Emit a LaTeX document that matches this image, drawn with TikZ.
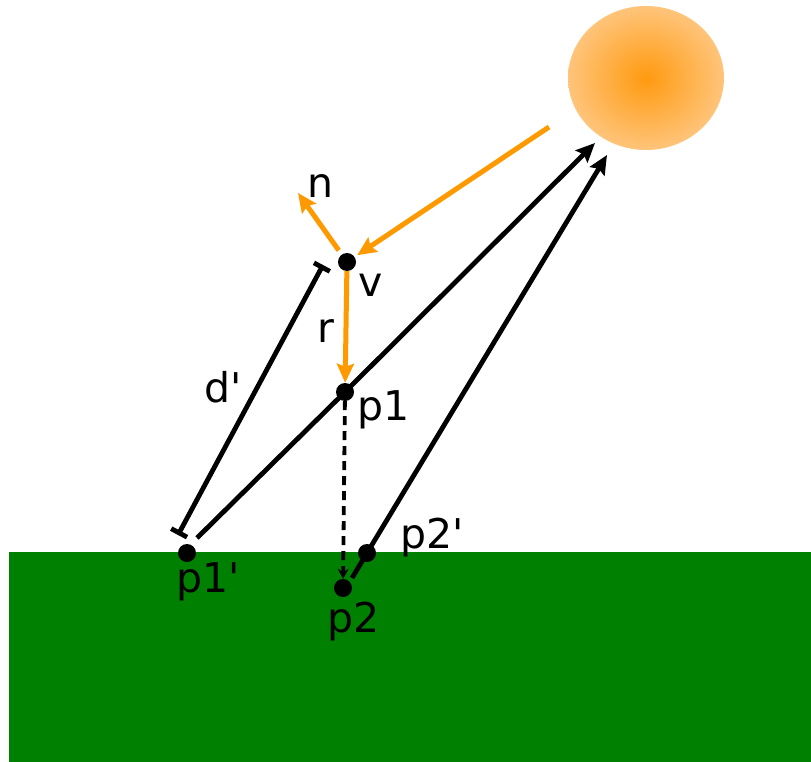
\documentclass[tikz,border=0pt]{standalone}
\usepackage{fontspec}
\setmainfont{DejaVu Sans}
\usepackage{xcolor}
\definecolor{rayOrange}{HTML}{FF9900}
\definecolor{sunCore}{HTML}{FF9A10}
\definecolor{sunRim}{HTML}{FFC47A}
\definecolor{grassGreen}{HTML}{008000}
\usetikzlibrary{arrows.meta}

\begin{document}
\begin{tikzpicture}[x=1pt, y=-1pt, >={Stealth[length=19pt, width=17pt, inset=3pt]},
    spot/.style={circle, fill=black, inner sep=0pt, minimum size=18pt},
    lbl/.style={font=\fontsize{41}{41}\selectfont, inner sep=0pt},
    ray/.style={rayOrange, line width=5pt, ->},
    beam/.style={black, line width=4.8pt, ->}]
  \useasboundingbox (0,0) rectangle (811,762);
  % ------- ground and sun -------
  \fill[grassGreen] (9,552) rectangle (811,762);
  \shade[inner color=sunCore, outer color=sunRim] (646,78) ellipse [x radius=78, y radius=72];
  % ------- points -------
  \node[spot] (v) at (347,262) {};
  \node[spot] (p1) at (345,392) {};
  \node[spot] (p1s) at (187,553) {};
  \node[spot] (p2) at (343,588) {};
  \node[spot] (p2s) at (367,553) {};
  \coordinate (sunA) at (595,143);
  \coordinate (sunB) at (607,155);
  \coordinate (rayStart) at (549,127);
  \coordinate (nTip) at (298,193);
  \coordinate (beamA) at (197,538);
  \coordinate (beamB) at (352,578);
  \coordinate (dTop) at (323,265);
  \coordinate (dBot) at (178,535);
  % ------- rays -------
  \draw[ray, shorten >=3pt] (rayStart) -- (v);
  \draw[ray, shorten <=5pt] (v) -- (nTip);
  \draw[ray] (v) -- (p1);
  \draw[beam] (beamA) -- (p1.center) -- (sunA);
  \draw[beam] (beamB) -- (p2s.center) -- (sunB);
  \draw[line width=3.8pt, dash pattern=on 9pt off 6pt, -{Stealth[length=10pt, width=11pt]}] (p1) -- (p2);
  \draw[line width=4.8pt, {Bar[width=18pt]}-{Bar[width=18pt]}] (dBot) -- (dTop);
  % ------- labels -------
  \node[lbl, anchor=base] (nLbl) at (320,198) {n};
  \node[lbl, anchor=base] (vLbl) at (371,296) {v};
  \node[lbl, anchor=base] (rLbl) at (326,342) {r};
  \node[lbl, anchor=base west] (p1Lbl) at (357,420) {p1};
  \node[lbl, anchor=base west] (dLbl) at (204,402) {d\textquotesingle};
  \node[lbl, anchor=base west] (p1sLbl) at (176,592) {p1\textquotesingle};
  \node[lbl, anchor=base west] (p2sLbl) at (400,548) {p2\textquotesingle};
  \node[lbl, anchor=base west] (p2Lbl) at (327,632) {p2};
\end{tikzpicture}
\end{document}
